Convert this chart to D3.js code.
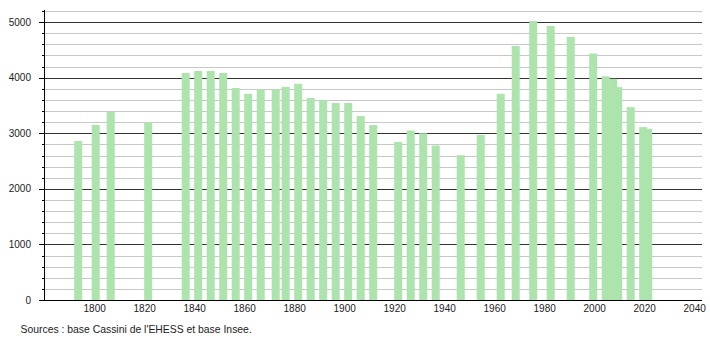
<!DOCTYPE html>
<html>
<head>
<meta charset="utf-8">
<script src="https://cdn.jsdelivr.net/npm/d3@7"></script>
<style>
  body { margin: 0; background: #fff; }
  text { font-family: "Liberation Sans", Arial, sans-serif; font-size: 10px; fill: #222; }
</style>
</head>
<body>
<div id="chart"></div>
<script>
// Census years and population
const years = [1793, 1800, 1806, 1821, 1836, 1841, 1846, 1851, 1856, 1861,
  1866, 1872, 1876, 1881, 1886, 1891, 1896, 1901, 1906, 1911,
  1921, 1926, 1931, 1936, 1946, 1954, 1962, 1968, 1975, 1982,
  1990, 1999, 2004, 2007, 2009, 2014, 2019, 2021];
const population = [2860, 3150, 3390, 3200, 4085, 4120, 4120, 4085, 3815, 3710,
  3790, 3790, 3835, 3890, 3635, 3600, 3545, 3545, 3310, 3150,
  2845, 3050, 3000, 2780, 2605, 2970, 3710, 4570, 5020, 4930,
  4735, 4435, 4025, 3980, 3830, 3470, 3110, 3080];

// Axis labels
const xTickYears = [1800, 1820, 1840, 1860, 1880, 1900, 1920, 1940, 1960, 1980, 2000, 2020, 2040];
const yMajorTicks = [0, 1000, 2000, 3000, 4000, 5000];
const yMinorTicks = d3.range(200, 5201, 200);

const sourceText = "Sources : base Cassini de l'EHESS et base Insee.";

const data = years.map((y, i) => ({ year: y, value: population[i] }));

const width = 710;
const height = 340;
const axisX = 44;
const axisRight = 702;
const baseY = 300;

const svg = d3.select('#chart')
  .append('svg')
    .attr('width', width)
    .attr('height', height);

// Scales
const x = d3.scaleLinear()
    .domain([1780, 2040])
    .range([axisX + 0.7, 694.7]);

const y = d3.scaleLinear()
    .domain([0, 5200])
    .range([baseY, 11]);

// Light gridlines every 200
svg.append('g')
  .selectAll('line')
  .data(yMinorTicks.filter(d => d % 1000 !== 0))
  .join('line')
    .attr('x1', axisX)
    .attr('x2', axisRight)
    .attr('y1', d => Math.round(y(d)) + 0.5)
    .attr('y2', d => Math.round(y(d)) + 0.5)
    .attr('stroke', '#c8c8c8')
    .attr('stroke-width', 1);

// Dark gridlines every 1000
svg.append('g')
  .selectAll('line')
  .data(yMajorTicks.filter(d => d > 0))
  .join('line')
    .attr('x1', axisX)
    .attr('x2', axisRight)
    .attr('y1', d => Math.round(y(d)) + 0.5)
    .attr('y2', d => Math.round(y(d)) + 0.5)
    .attr('stroke', '#333')
    .attr('stroke-width', 1);

// Bars, drawn in year order so the close census years overlap
const barHalf = 1.6; // in years
svg.append('g')
  .selectAll('rect')
  .data(data)
  .join('rect')
    .attr('x', d => x(d.year - barHalf) + 1)
    .attr('width', d => x(d.year + barHalf) - x(d.year - barHalf))
    .attr('y', d => y(d.value))
    .attr('height', d => baseY - y(d.value))
    .attr('fill', '#ade3ad');

// Y axis line and ticks
svg.append('line')
    .attr('x1', axisX + 0.5)
    .attr('x2', axisX + 0.5)
    .attr('y1', 10)
    .attr('y2', baseY)
    .attr('stroke', '#000');

svg.append('g')
  .selectAll('line')
  .data(yMinorTicks.filter(d => d % 1000 !== 0))
  .join('line')
    .attr('x1', axisX - 2)
    .attr('x2', axisX)
    .attr('y1', d => Math.round(y(d)) + 0.5)
    .attr('y2', d => Math.round(y(d)) + 0.5)
    .attr('stroke', '#000');

svg.append('g')
  .selectAll('line')
  .data(yMajorTicks)
  .join('line')
    .attr('x1', axisX - 5)
    .attr('x2', axisX)
    .attr('y1', d => Math.round(y(d)) + 0.5)
    .attr('y2', d => Math.round(y(d)) + 0.5)
    .attr('stroke', '#000');

svg.append('g')
  .selectAll('text')
  .data(yMajorTicks)
  .join('text')
    .attr('x', 31)
    .attr('y', d => y(d) + 3.5)
    .attr('text-anchor', 'end')
    .text(d => d);

// X axis line and labels
svg.append('line')
    .attr('x1', axisX - 5)
    .attr('x2', axisRight)
    .attr('y1', baseY + 0.5)
    .attr('y2', baseY + 0.5)
    .attr('stroke', '#000');

svg.append('g')
  .selectAll('text')
  .data(xTickYears)
  .join('text')
    .attr('x', d => x(d))
    .attr('y', 312)
    .attr('text-anchor', 'middle')
    .text(d => d);

// Source line
svg.append('text')
    .attr('x', 20.5)
    .attr('y', 332.5)
    .style('font-size', '10.4px')
    .text(sourceText);
</script>
</body>
</html>
